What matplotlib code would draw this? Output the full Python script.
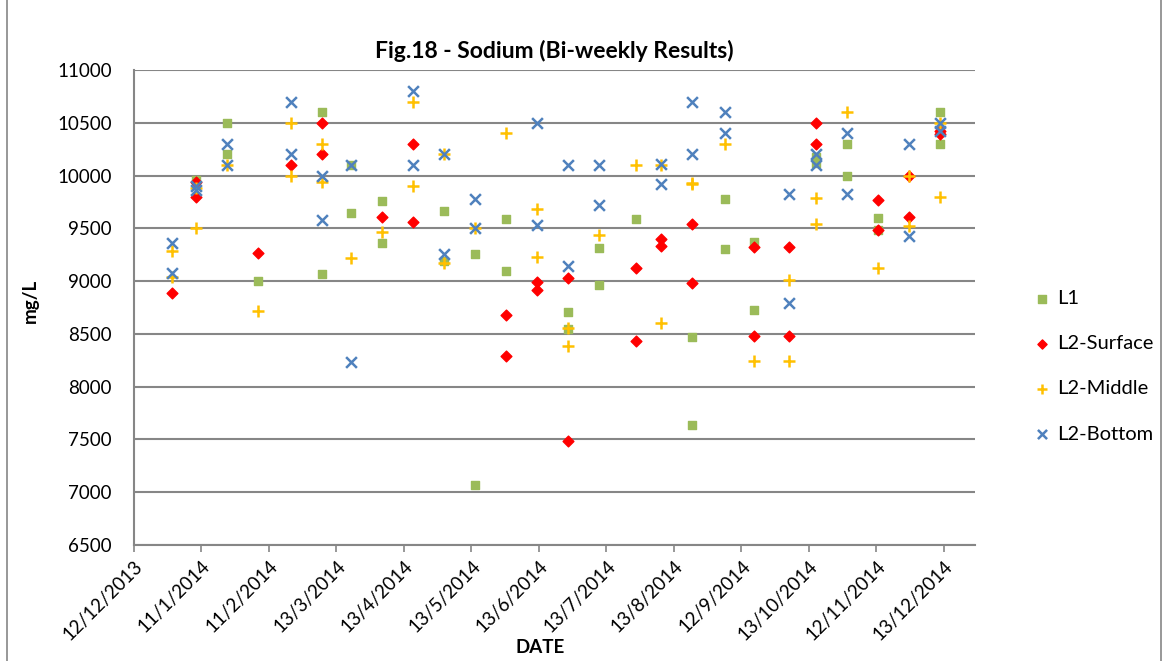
import datetime as dt
import matplotlib
matplotlib.use('Agg')
import matplotlib.pyplot as plt
import matplotlib.dates as mdates
from matplotlib.lines import Line2D

plt.rcParams['font.family'] = ['Lato', 'DejaVu Sans']

# sampling dates (roughly bi-weekly)
l1_dates = ['2014-01-09', '2014-01-23', '2014-01-23', '2014-02-06', '2014-03-07', '2014-03-07',
            '2014-03-20', '2014-03-20', '2014-04-03', '2014-04-03', '2014-05-01', '2014-05-01',
            '2014-05-15', '2014-05-15', '2014-05-29', '2014-05-29', '2014-06-26', '2014-06-26',
            '2014-07-10', '2014-07-10', '2014-07-27', '2014-08-21', '2014-08-21', '2014-09-05',
            '2014-09-05', '2014-09-18', '2014-09-18', '2014-10-16', '2014-10-16', '2014-10-30',
            '2014-10-30', '2014-11-13', '2014-11-13', '2014-12-11', '2014-12-11']
l1_vals = [9960, 10500, 10200, 9000, 10600, 9070,
           10100, 9650, 9760, 9360, 9660, 9190,
           9260, 7070, 9590, 9100, 8710, 8550,
           9310, 8960, 9590, 8470, 7640, 9780,
           9300, 9370, 8730, 10180, 10120, 10300,
           10000, 9600, 9480, 10600, 10300]

surf_dates = ['2013-12-29', '2014-01-09', '2014-01-09', '2014-02-06', '2014-02-21', '2014-03-07',
              '2014-03-07', '2014-04-03', '2014-04-17', '2014-04-17', '2014-05-29', '2014-05-29',
              '2014-06-12', '2014-06-12', '2014-06-26', '2014-06-26', '2014-07-27', '2014-07-27',
              '2014-08-07', '2014-08-07', '2014-08-21', '2014-08-21', '2014-09-18', '2014-09-18',
              '2014-10-04', '2014-10-04', '2014-10-16', '2014-10-16', '2014-11-13', '2014-11-13',
              '2014-11-27', '2014-11-27', '2014-12-11', '2014-12-11']
surf_vals = [8890, 9940, 9800, 9270, 10100, 10500,
             10200, 9610, 10300, 9560, 8680, 8290,
             8990, 8920, 9030, 7490, 9120, 8430,
             9400, 9330, 9540, 8980, 9320, 8480,
             9320, 8480, 10500, 10300, 9770, 9480,
             10000, 9610, 10420, 10390]

mid_dates = ['2013-12-29', '2013-12-29', '2014-01-09', '2014-01-09', '2014-01-23', '2014-02-06',
             '2014-02-21', '2014-02-21', '2014-03-07', '2014-03-07', '2014-03-20', '2014-04-03',
             '2014-04-17', '2014-04-17', '2014-05-01', '2014-05-01', '2014-05-15', '2014-05-29',
             '2014-06-12', '2014-06-12', '2014-06-26', '2014-06-26', '2014-07-10', '2014-07-27',
             '2014-08-07', '2014-08-07', '2014-08-21', '2014-08-21', '2014-09-05', '2014-09-18',
             '2014-10-04', '2014-10-04', '2014-10-16', '2014-10-16', '2014-10-30', '2014-11-13',
             '2014-11-27', '2014-11-27', '2014-12-11', '2014-12-11']
mid_vals = [9290, 9040, 9500, 9880, 10100, 8720,
            10500, 10000, 10300, 9940, 9220, 9470,
            10700, 9900, 10200, 9170, 9500, 10400,
            9680, 9230, 8560, 8390, 9440, 10100,
            10100, 8600, 9930, 9920, 10300, 8240,
            9010, 8240, 9790, 9540, 10600, 9120,
            10000, 9520, 10500, 9800]

bot_dates = ['2013-12-29', '2013-12-29', '2014-01-09', '2014-01-09', '2014-01-23', '2014-01-23',
             '2014-02-21', '2014-02-21', '2014-03-07', '2014-03-07', '2014-03-20', '2014-03-20',
             '2014-04-17', '2014-04-17', '2014-05-01', '2014-05-01', '2014-05-15', '2014-05-15',
             '2014-06-12', '2014-06-12', '2014-06-26', '2014-06-26', '2014-07-10', '2014-07-10',
             '2014-08-07', '2014-08-07', '2014-08-21', '2014-08-21', '2014-09-05', '2014-09-05',
             '2014-10-04', '2014-10-04', '2014-10-16', '2014-10-16', '2014-10-30', '2014-10-30',
             '2014-11-27', '2014-11-27', '2014-12-11', '2014-12-11']
bot_vals = [9360, 9080, 9900, 9860, 10300, 10100,
            10700, 10200, 10000, 9580, 10100, 8230,
            10800, 10100, 10200, 9260, 9780, 9500,
            10500, 9530, 10100, 9140, 10100, 9720,
            10110, 9920, 10700, 10200, 10600, 10400,
            9830, 8790, 10200, 10100, 10400, 9830,
            10300, 9430, 10500, 10420]

tick_labels = ['12/12/2013', '11/1/2014', '11/2/2014', '13/3/2014', '13/4/2014', '13/5/2014',
               '13/6/2014', '13/7/2014', '13/8/2014', '12/9/2014', '13/10/2014', '12/11/2014',
               '13/12/2014']


def toNum(fechas):
    return [mdates.date2num(dt.datetime.strptime(f, '%Y-%m-%d')) for f in fechas]


fig = plt.figure(figsize=(11.69, 6.61), dpi=100)
ax = fig.add_axes([0.1146, 0.1755, 0.7194, 0.7185])

ax.scatter(toNum(l1_dates), l1_vals, marker='s', s=40, color='#9BBB59', label='L1', zorder=3)
ax.scatter(toNum(surf_dates), surf_vals, marker='D', s=30, color='#FF0000', label='L2-Surface', zorder=3)
ax.scatter(toNum(mid_dates), mid_vals, marker='+', s=80, linewidths=1.8, color='#FFC000',
           label='L2-Middle', zorder=3)
ax.scatter(toNum(bot_dates), bot_vals, marker='x', s=60, linewidths=1.8, color='#4F81BD',
           label='L2-Bottom', zorder=3)

inicio = mdates.date2num(dt.datetime(2013, 12, 12))
ax.set_xlim(inicio, inicio + 380)
ax.set_xticks([inicio + 30.5 * k for k in range(len(tick_labels))])
ax.set_xticklabels(tick_labels, rotation=45, ha='right', rotation_mode='anchor', fontsize=13.5)
ax.set_ylim(6500, 11000)
ax.set_yticks(range(6500, 11001, 500))
ax.tick_params(axis='y', length=0, labelsize=13.5, pad=16)
ax.tick_params(axis='x', length=5, color='#868686', width=1.2, pad=4)

ax.grid(axis='y', color='#868686', linewidth=1.5)
ax.set_axisbelow(True)
for lado in ['top', 'right']:
    ax.spines[lado].set_visible(False)
for lado in ['left', 'bottom']:
    ax.spines[lado].set_color('#868686')
    ax.spines[lado].set_linewidth(1.5)

ax.set_title('Fig.18 - Sodium (Bi-weekly Results)', fontsize=16.5, fontweight='bold', pad=9)
fig.text(0.462, 0.02, 'DATE', fontsize=13.5, fontweight='bold', ha='center', va='center')
fig.text(0.026, 0.545, 'mg/L', fontsize=13.5, fontweight='bold', ha='center', va='center',
         rotation=90)

ax.legend(loc='center left', bbox_to_anchor=(0.868, 0.446), bbox_transform=fig.transFigure,
          frameon=False, fontsize=14.5, labelspacing=1.4, handletextpad=0.3, handlelength=0.9,
          scatterpoints=1, markerscale=0.85)

# chart border
fig.add_artist(Line2D([0.006, 0.006], [0, 1], color='#868686', linewidth=1.2,
                      transform=fig.transFigure))
fig.add_artist(Line2D([0.993, 0.993], [0, 1], color='#868686', linewidth=1.2,
                      transform=fig.transFigure))

fig.savefig('out.png', dpi=100)
